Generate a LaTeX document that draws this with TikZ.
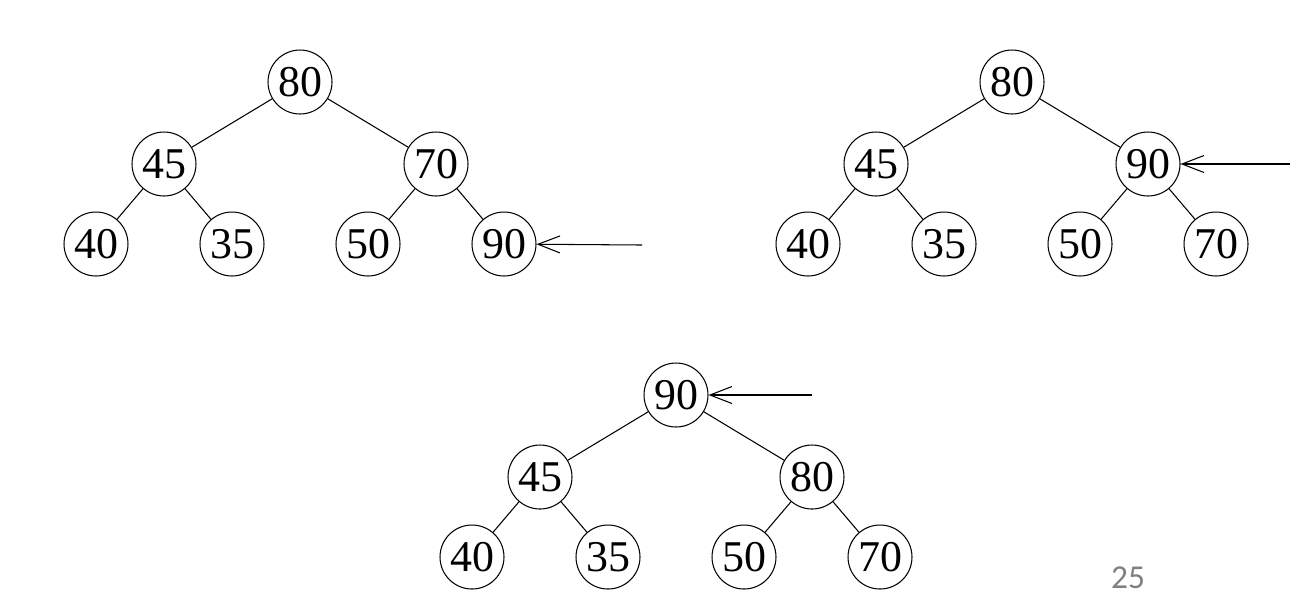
\documentclass[tikz,border=0pt]{standalone}
\usepackage{fontspec}
\setmainfont{Liberation Serif}
\newfontfamily\pagefont{Carlito}
\usetikzlibrary{arrows.meta}
\definecolor{pnumgray}{HTML}{7F7F7F}

\begin{document}
\begin{tikzpicture}[x=0.02cm, y=-0.02cm,
    key/.style={draw, circle, line width=0.6pt, minimum size=1.28cm, inner sep=0pt,
      font=\fontsize{25}{25}\selectfont},
    edge/.style={line width=0.6pt},
    ptr/.style={line width=0.6pt, -{Straight Barb[length=4.4mm, width=3.4mm]}}]
    \useasboundingbox (0,0) rectangle (1314,610);
    % heaps: name/root x/root y/keys
    \foreach \t/\x/\y/\ka/\kb/\kc/\kd/\ke/\kf/\kg in {
      a/300/82/80/45/70/40/35/50/90,
      b/1012/82/80/45/90/40/35/50/70,
      c/676/395/90/45/80/40/35/50/70}{
      \node[key] (\t1) at (\x,\y) {\ka};
      \node[key] (\t2) at (\x-136,\y+82) {\kb};
      \node[key] (\t3) at (\x+136,\y+82) {\kc};
      \node[key] (\t4) at (\x-204,\y+162) {\kd};
      \node[key] (\t5) at (\x-68,\y+162) {\ke};
      \node[key] (\t6) at (\x+68,\y+162) {\kf};
      \node[key] (\t7) at (\x+204,\y+162) {\kg};
      \draw[edge] (\t1) -- (\t2) (\t1) -- (\t3)
        (\t2) -- (\t4) (\t2) -- (\t5) (\t3) -- (\t6) (\t3) -- (\t7);
    }
    % pointers
    \coordinate (pa) at (642,245);
    \coordinate (pb) at (1290,164);
    \coordinate (pc) at (812,395);
    \draw[ptr] (pa) -- (a7);
    \draw[ptr] (pb) -- (b3);
    \draw[ptr] (pc) -- (c1);
    % page number
    \node[font=\pagefont\fontsize{19}{19}\selectfont, text=pnumgray] (pnum) at (1128,578) {25};
  \end{tikzpicture}
\end{document}
